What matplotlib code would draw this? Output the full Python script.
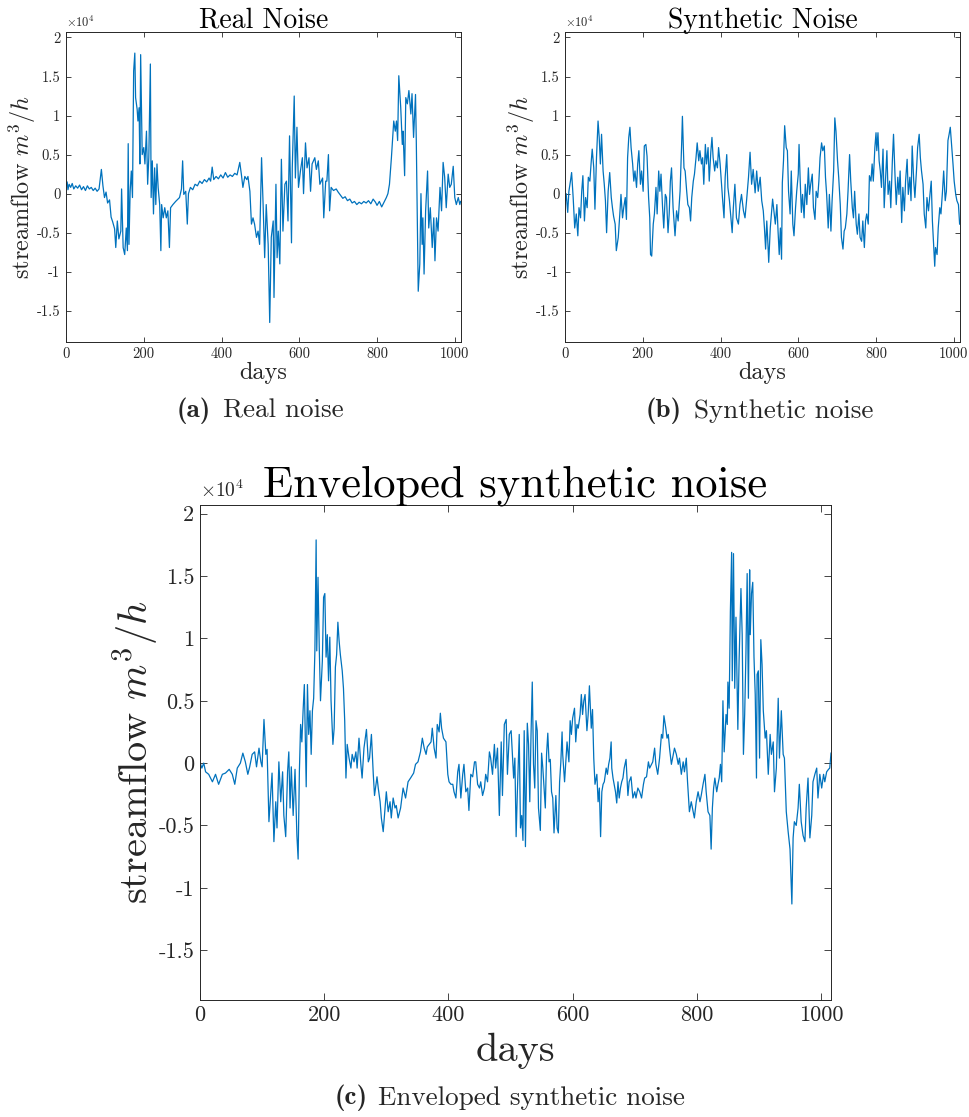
import numpy as np
import matplotlib
matplotlib.use('Agg')
import matplotlib.pyplot as plt
import matplotlib.ticker as ticker

plt.rcParams['font.family'] = 'serif'
plt.rcParams['font.serif'] = ['cmr10']
plt.rcParams['mathtext.fontset'] = 'cm'
plt.rcParams['axes.unicode_minus'] = False

# values, in units of 1e4 m^3/h
days_real = [0, 3, 5, 8, 12, 16, 20, 25, 30, 35, 40, 45, 50, 55, 60, 65, 70, 75, 80, 85,
             91, 95, 99, 103, 107, 112, 116, 120, 125, 128, 132, 136, 141, 143, 147, 151, 155, 158, 160, 162,
             165, 168, 171, 174, 177, 179, 183, 185, 188, 190, 192, 196, 200, 203, 207, 210, 213, 217, 219, 222,
             225, 228, 231, 234, 237, 241, 244, 246, 250, 254, 258, 262, 266, 269, 275, 282, 288, 292, 297, 300,
             303, 308, 312, 315, 320, 326, 332, 338, 344, 350, 356, 362, 368, 372, 376, 380, 386, 392, 398, 404,
             410, 416, 422, 428, 434, 440, 447, 451, 455, 460, 465, 468, 473, 477, 481, 485, 490, 494, 498, 503,
             507, 511, 515, 520, 524, 528, 533, 535, 540, 543, 546, 550, 554, 558, 563, 567, 571, 575, 580, 582,
             587, 590, 594, 598, 603, 608, 611, 616, 620, 625, 629, 633, 640, 644, 649, 653, 660, 663, 668, 671,
             675, 678, 682, 688, 695, 700, 706, 712, 718, 724, 730, 736, 742, 748, 754, 760, 766, 772, 778, 784,
             790, 796, 800, 806, 812, 817, 824, 828, 832, 837, 843, 847, 850, 853, 856, 861, 865, 867, 871, 874,
             878, 882, 887, 890, 894, 899, 901, 906, 910, 913, 916, 918, 921, 925, 930, 933, 937, 942, 946, 949,
             953, 957, 962, 966, 970, 974, 978, 983, 987, 991, 996, 1000, 1004, 1009, 1013, 1015]
real_noise = [0.10, 0.15, 0.05, 0.12, 0.08, 0.13, 0.06, 0.10, 0.07, 0.11, 0.05, 0.09, 0.04, 0.10, 0.06, 0.08, 0.04, 0.07, 0.03, 0.06,
              0.31, 0.10, -0.05, 0.02, -0.12, -0.08, -0.30, -0.36, -0.45, -0.69, -0.35, -0.58, -0.48, 0.06, -0.69, -0.78, -0.44, -0.73, 0.64, -0.65,
              0.03, 0.29, -0.05, 1.57, 1.80, 1.23, 1.08, 0.93, 1.10, 0.38, 1.78, 0.50, 0.59, 0.38, 0.80, 0.12, 0.46, 1.66, -0.05, 0.42,
              -0.26, 0.33, -0.14, 0.38, 0.08, -0.14, -0.73, -0.14, -0.31, -0.18, -0.31, -0.22, -0.69, -0.18, -0.14, -0.10, -0.07, -0.05, 0.06, 0.42,
              -0.01, 0.03, -0.39, 0.00, 0.08, 0.05, 0.12, 0.10, 0.16, 0.13, 0.18, 0.15, 0.20, 0.16, 0.34, 0.18, 0.22, 0.19, 0.24, 0.20,
              0.27, 0.21, 0.24, 0.22, 0.26, 0.24, 0.40, 0.25, 0.08, 0.22, 0.18, 0.22, 0.03, -0.39, -0.31, -0.39, -0.56, -0.48, -0.65, 0.46,
              -0.14, -0.82, -0.14, -0.65, -1.65, -0.56, -0.35, -1.33, 0.12, -0.82, -0.48, -0.90, 0.44, -0.48, 0.12, 0.16, -0.35, 0.74, -0.63, 0.33,
              1.25, 0.20, 0.85, 0.08, 0.29, 0.46, 0.00, 0.65, 0.33, 0.46, 0.03, 0.38, 0.46, 0.31, 0.42, 0.12, 0.20, -0.31, 0.16, 0.16,
              0.50, -0.22, 0.08, 0.04, 0.06, 0.02, -0.02, -0.06, -0.04, -0.09, -0.07, -0.12, -0.10, -0.14, -0.11, -0.13, -0.10, -0.12, -0.09, -0.13,
              -0.07, -0.11, -0.15, -0.10, -0.17, -0.12, -0.05, 0.00, 0.12, 0.46, 0.93, 0.80, 0.93, 0.68, 1.51, 1.10, 0.63, 0.80, 0.23, 1.23,
              1.15, 1.32, 1.02, 1.28, 0.72, 1.27, 0.68, -1.25, -0.90, 0.00, -0.65, -0.31, -1.03, -0.22, 0.29, -0.44, -0.18, -0.69, -0.31, -0.86,
              -0.31, -0.48, 0.08, -0.22, 0.40, 0.21, -0.18, 0.25, 0.08, 0.12, 0.35, -0.05, -0.14, -0.05, -0.14, -0.10]

days_syn = [0, 3, 7, 10, 14, 17, 21, 25, 29, 33, 36, 40, 43, 46, 50, 53, 57, 60, 64, 67,
            70, 74, 77, 81, 85, 88, 91, 94, 98, 101, 104, 107, 111, 115, 119, 122, 125, 129, 132, 137,
            141, 144, 148, 151, 155, 158, 161, 164, 167, 170, 174, 177, 180, 184, 187, 190, 194, 197, 201, 204,
            208, 211, 215, 218, 220, 223, 227, 230, 234, 237, 241, 244, 247, 251, 254, 258, 261, 265, 268, 271,
            274, 278, 283, 287, 291, 296, 300, 302, 306, 309, 313, 316, 320, 323, 326, 330, 333, 337, 340, 344,
            347, 351, 354, 357, 361, 364, 368, 371, 375, 378, 381, 385, 388, 392, 395, 399, 402, 405, 409, 412,
            416, 419, 423, 426, 430, 433, 437, 441, 446, 450, 454, 459, 463, 467, 472, 476, 480, 484, 489, 493,
            497, 502, 506, 510, 513, 516, 519, 522, 524, 528, 531, 534, 538, 541, 545, 548, 551, 554, 557, 559,
            562, 565, 569, 572, 575, 579, 582, 586, 589, 593, 596, 600, 602, 605, 608, 611, 615, 618, 622, 626,
            629, 632, 636, 639, 643, 646, 650, 653, 656, 660, 663, 667, 670, 673, 677, 680, 684, 687, 691, 694,
            697, 701, 704, 708, 711, 715, 718, 721, 725, 728, 732, 735, 739, 742, 745, 749, 752, 756, 759, 763,
            766, 770, 773, 776, 780, 783, 787, 790, 793, 797, 800, 802, 805, 808, 811, 814, 818, 821, 825, 828,
            831, 835, 838, 842, 845, 849, 852, 856, 859, 862, 866, 869, 873, 876, 880, 883, 887, 890, 893, 897,
            900, 904, 907, 911, 914, 917, 921, 924, 928, 931, 935, 938, 942, 945, 948, 951, 953, 957, 960, 964,
            967, 971, 974, 978, 981, 985, 988, 991, 995, 998, 1001, 1005, 1008, 1012, 1015]
synthetic_noise = [-0.14, 0.00, -0.24, 0.03, 0.16, 0.27, -0.05, -0.44, -0.26, -0.54, -0.18, -0.31, 0.03, 0.23, -0.35, -0.05, -0.18, 0.21, 0.16, 0.38,
                   0.57, 0.33, -0.20, 0.46, 0.93, 0.72, 0.38, 0.76, 0.29, 0.12, -0.09, -0.50, 0.03, 0.27, -0.05, -0.18, -0.29, -0.39, -0.73, -0.56,
                   -0.26, -0.01, -0.31, -0.18, -0.05, -0.33, 0.46, 0.72, 0.85, 0.59, 0.38, 0.16, 0.29, 0.08, 0.38, 0.55, 0.12, 0.29, 0.03, 0.61,
                   0.63, 0.48, -0.05, -0.31, -0.78, -0.80, -0.39, -0.26, 0.08, -0.26, 0.29, 0.03, 0.25, -0.18, -0.44, -0.01, -0.05, -0.50, -0.26, 0.16,
                   0.33, -0.18, -0.54, -0.22, -0.35, 0.03, 0.63, 0.99, 0.33, 0.29, 0.03, -0.14, -0.18, -0.35, -0.05, 0.16, 0.25, 0.46, 0.65, 0.42,
                   0.55, 0.38, 0.46, 0.12, 0.63, 0.38, 0.59, 0.16, 0.53, 0.72, 0.46, 0.29, 0.42, 0.33, 0.59, 0.38, 0.16, -0.05, -0.31, 0.21,
                   0.50, 0.08, -0.09, -0.26, -0.50, -0.18, 0.12, -0.31, -0.39, -0.14, -0.01, -0.22, -0.31, -0.09, 0.21, 0.53, 0.12, 0.31, 0.01, 0.29,
                   0.03, 0.21, -0.09, -0.22, -0.44, -0.71, -0.35, -0.65, -0.88, -0.44, -0.26, -0.07, -0.26, -0.39, -0.14, -0.48, -0.78, -0.44, -0.84, 0.14,
                   0.42, 0.87, 0.59, 0.55, 0.03, -0.26, 0.29, -0.39, -0.54, -0.18, 0.03, 0.25, 0.63, 0.16, -0.24, -0.01, -0.31, 0.12, -0.14, 0.33,
                   -0.01, 0.12, 0.25, -0.18, -0.33, 0.03, -0.05, 0.16, 0.46, 0.65, 0.55, 0.61, 0.21, -0.01, -0.44, -0.01, -0.48, -0.09, 0.29, 0.97,
                   0.80, 0.42, 0.21, -0.14, -0.56, -0.71, -0.48, -0.44, -0.26, 0.03, 0.50, 0.16, -0.18, -0.31, 0.03, -0.39, -0.52, -0.26, -0.56, -0.61,
                   -0.35, -0.69, -0.35, -0.26, -0.39, 0.23, 0.16, 0.38, 0.16, 0.59, 0.78, 0.55, 0.78, 0.42, 0.29, 0.08, 0.57, -0.18, 0.23, 0.55,
                   -0.01, 0.16, -0.18, 0.42, 0.76, 0.21, -0.14, 0.21, -0.01, 0.29, -0.37, 0.08, -0.22, 0.16, 0.44, -0.01, 0.21, -0.09, 0.61, 0.16,
                   -0.05, 0.29, 0.59, 0.76, 0.46, 0.29, 0.12, -0.26, -0.44, -0.05, -0.22, -0.05, 0.16, -0.35, -0.65, -0.93, -0.69, -0.78, -0.44, -0.18,
                   -0.26, 0.03, 0.29, -0.09, 0.03, 0.68, 0.76, 0.85, 0.59, 0.38, 0.16, -0.01, -0.09, -0.14, -0.39]

days_env = [1, 3, 6, 9, 14, 20, 25, 30, 36, 41, 47, 52, 56, 60, 65, 69, 73, 77, 80, 84,
            88, 91, 95, 98, 100, 103, 106, 108, 111, 114, 116, 119, 122, 124, 127, 130, 133, 135, 138, 141,
            143, 145, 147, 150, 153, 156, 158, 160, 162, 164, 166, 168, 171, 173, 175, 177, 179, 181, 183, 185,
            187, 188, 190, 192, 194, 197, 199, 201, 203, 205, 207, 209, 211, 214, 216, 218, 220, 222, 224, 226,
            229, 231, 233, 235, 237, 240, 243, 245, 248, 251, 253, 256, 259, 261, 264, 268, 271, 273, 276, 279,
            281, 285, 287, 290, 292, 295, 298, 300, 303, 306, 308, 311, 314, 316, 319, 323, 327, 331, 335, 339,
            344, 347, 351, 355, 358, 361, 364, 366, 369, 372, 374, 377, 380, 382, 385, 387, 389, 392, 396, 399,
            401, 404, 407, 409, 412, 415, 417, 420, 423, 425, 428, 431, 433, 436, 439, 442, 444, 447, 450, 452,
            455, 458, 460, 463, 466, 468, 471, 474, 476, 479, 482, 485, 487, 490, 493, 495, 498, 501, 503, 505,
            507, 509, 511, 514, 516, 518, 520, 522, 524, 527, 529, 531, 533, 535, 537, 539, 541, 543, 545, 548,
            550, 552, 554, 556, 558, 560, 562, 564, 566, 568, 570, 573, 575, 577, 579, 581, 583, 584, 587, 589,
            591, 594, 596, 598, 600, 603, 605, 607, 609, 612, 614, 616, 618, 620, 623, 625, 627, 630, 632, 634,
            636, 639, 641, 643, 645, 647, 649, 651, 654, 656, 658, 660, 662, 663, 665, 669, 671, 673, 675, 677,
            679, 681, 683, 686, 689, 691, 694, 697, 700, 702, 705, 708, 711, 714, 716, 719, 722, 724, 727, 729,
            732, 734, 737, 740, 743, 745, 747, 750, 752, 754, 756, 759, 762, 764, 767, 770, 772, 775, 778, 780,
            783, 785, 788, 791, 794, 796, 799, 802, 805, 807, 810, 813, 815, 818, 821, 823, 825, 827, 829, 832,
            834, 836, 838, 840, 842, 844, 847, 849, 850, 852, 854, 856, 857, 859, 861, 863, 866, 868, 871, 873,
            875, 877, 879, 881, 883, 885, 886, 888, 890, 892, 894, 896, 897, 899, 901, 903, 905, 907, 910, 912,
            915, 918, 920, 923, 925, 928, 931, 933, 936, 939, 941, 944, 947, 950, 953, 955, 957, 960, 963, 965,
            968, 971, 974, 976, 979, 982, 985, 987, 990, 993, 995, 998, 1001, 1004, 1006, 1009, 1012, 1014, 1016]
enveloped_noise = [-0.01, -0.04, 0.00, -0.07, -0.09, -0.15, -0.09, -0.17, -0.09, -0.08, -0.05, -0.09, -0.17, -0.04, 0.00, 0.08, 0.01, -0.09, -0.03, 0.07,
                   0.09, -0.03, 0.12, 0.01, -0.03, 0.35, 0.07, 0.11, -0.47, -0.23, -0.08, -0.63, -0.31, -0.52, 0.01, -0.31, -0.07, -0.42, -0.59, -0.07,
                   0.09, -0.36, -0.03, -0.42, -0.05, -0.58, -0.77, -0.07, 0.31, 0.17, 0.42, 0.63, -0.19, 0.63, 0.23, 0.42, 0.07, 0.42, 0.52, 0.90,
                   1.79, 0.90, 1.49, 0.93, 0.50, 0.82, 1.33, 1.36, 0.85, 1.03, 0.66, 1.01, 0.50, 0.15, 0.28, 0.77, 0.87, 1.13, 0.98, 0.87,
                   0.74, 0.60, 0.34, -0.12, 0.15, 0.04, -0.04, 0.07, 0.01, 0.09, -0.04, 0.20, -0.01, -0.12, 0.12, 0.27, 0.01, 0.04, 0.23, -0.09,
                   -0.26, -0.11, -0.20, -0.31, -0.44, -0.55, -0.36, -0.23, -0.39, -0.31, -0.44, -0.28, -0.36, -0.34, -0.44, -0.36, -0.20, -0.28, -0.15, -0.12,
                   -0.08, -0.01, 0.01, 0.09, 0.20, 0.12, 0.07, 0.13, 0.15, 0.17, 0.28, 0.12, 0.04, 0.31, 0.25, 0.40, 0.28, 0.20, 0.17, -0.09,
                   -0.15, -0.17, -0.17, -0.23, -0.28, -0.07, -0.01, -0.28, -0.09, -0.01, -0.23, -0.20, -0.38, -0.09, -0.11, 0.01, 0.01, -0.17, -0.20, -0.15,
                   -0.26, -0.20, -0.09, -0.15, 0.09, 0.04, -0.09, 0.15, -0.04, 0.12, -0.42, 0.17, -0.26, 0.31, 0.35, -0.09, 0.23, 0.26, 0.07, -0.12,
                   0.04, -0.59, -0.23, 0.23, -0.52, -0.42, -0.62, 0.26, -0.67, 0.32, 0.15, -0.31, 0.23, 0.65, -0.01, -0.20, 0.34, 0.26, -0.36, -0.54,
                   0.08, -0.04, -0.20, -0.36, 0.07, 0.24, 0.01, 0.03, -0.23, -0.28, -0.56, -0.26, -0.52, -0.56, -0.15, 0.01, 0.25, 0.07, -0.15, 0.01,
                   0.17, 0.01, 0.34, 0.23, 0.36, 0.44, 0.17, 0.31, 0.28, 0.39, 0.55, 0.39, 0.50, 0.55, 0.26, 0.39, 0.62, 0.28, 0.43, 0.04,
                   -0.17, -0.09, -0.31, -0.20, -0.59, -0.23, -0.17, -0.15, -0.04, -0.09, -0.01, 0.04, 0.17, -0.04, -0.12, -0.23, -0.32, -0.15, -0.28, -0.20,
                   -0.15, -0.12, -0.04, 0.03, -0.26, -0.15, -0.11, -0.28, -0.23, -0.28, -0.20, -0.23, -0.28, -0.17, -0.12, -0.11, 0.01, -0.04, -0.01, 0.01,
                   0.12, -0.01, -0.09, 0.04, 0.23, 0.20, 0.38, 0.28, 0.20, 0.23, 0.12, -0.01, 0.07, 0.12, 0.07, -0.01, 0.04, -0.09, 0.01, -0.07,
                   0.04, -0.15, -0.39, -0.31, -0.39, -0.44, -0.31, -0.23, -0.31, -0.26, -0.17, -0.09, -0.23, -0.39, -0.42, -0.69, -0.36, -0.20, -0.12, -0.23,
                   -0.17, -0.12, -0.01, -0.15, 0.50, 0.09, 0.39, 0.31, 0.65, 0.44, 1.22, 1.69, 0.66, 1.68, 0.60, 1.17, 0.27, 0.82, 1.40, 1.03,
                   0.07, 0.39, 0.87, 1.52, 0.52, 1.55, 1.03, 1.36, 1.45, 0.85, 0.55, -0.12, 0.71, 0.74, 0.04, 0.99, 0.79, 0.42, 0.20, 0.26,
                   -0.09, 0.23, 0.07, 0.17, -0.23, -0.04, 0.52, 0.04, 0.42, 0.07, 0.04, -0.39, -0.55, -0.69, -1.13, -0.60, -0.47, -0.50, -0.36, -0.17,
                   -0.47, -0.58, -0.63, -0.36, -0.12, -0.60, -0.42, -0.15, -0.09, -0.04, -0.28, -0.09, -0.20, -0.09, -0.15, -0.07, -0.05, -0.04, 0.08]

line_color = '#0072BD'
axis_color = '#262626'
W, H = 970, 1117


def yfmt(v, pos):
    return '%g' % round(v / 1e4, 2)


def setup(ax, title, title_size, label_size, tick_size, tick_len, title_pad, mult_size, ylab_x):
    ax.set_xlim(0, 1016)
    ax.set_ylim(-1.9e4, 2.07e4)
    ax.set_xticks([0, 200, 400, 600, 800, 1000])
    ax.yaxis.set_major_locator(ticker.MultipleLocator(5000))
    ax.yaxis.set_major_formatter(ticker.FuncFormatter(yfmt))
    ax.tick_params(direction='in', top=True, right=True, length=tick_len, width=0.6,
                   labelsize=tick_size, colors=axis_color, pad=4)
    for s in ax.spines.values():
        s.set_color(axis_color)
        s.set_linewidth(0.7)
    ax.set_title(title, fontsize=title_size, pad=title_pad)
    ax.set_xlabel('days', fontsize=label_size, color=axis_color)
    ax.set_ylabel(r'streamflow $m^3/h$', fontsize=label_size, color=axis_color)
    ax.xaxis.set_label_coords(0.5, -0.065)
    ax.yaxis.set_label_coords(ylab_x, 0.5)
    ax.text(0.0, 1.008, r'$\times10^{4}$', transform=ax.transAxes, fontsize=mult_size,
            color=axis_color, ha='left', va='bottom')


def caption(x_split, y, tag, text, gap=12):
    # bold tag "(a)" then the regular caption text
    fig.text(x_split / W, 1 - y / H, tag, ha='right', va='center', fontsize=19.5,
             family='cmb10', color=axis_color)
    fig.text((x_split + gap) / W, 1 - y / H, text, ha='left', va='center', fontsize=19.5,
             color=axis_color)


fig = plt.figure(figsize=(W / 100, H / 100), dpi=100)

ax_a = fig.add_axes([66 / W, 1 - 342 / H, 395 / W, 310 / H])
ax_a.plot(days_real, np.array(real_noise) * 1e4, color=line_color, lw=0.9)
setup(ax_a, 'Real Noise', 20, 17.5, 10.5, 3.5, 3, 9, -0.072)

ax_b = fig.add_axes([565 / W, 1 - 342 / H, 395 / W, 310 / H])
ax_b.plot(days_syn, np.array(synthetic_noise) * 1e4, color=line_color, lw=0.9)
setup(ax_b, 'Synthetic Noise', 20, 17.5, 10.5, 3.5, 3, 9, -0.072)

ax_c = fig.add_axes([200 / W, 1 - 1000 / H, 631 / W, 495 / H])
ax_c.plot(days_env, np.array(enveloped_noise) * 1e4, color=line_color, lw=0.9)
setup(ax_c, 'Enveloped synthetic noise', 32, 29, 16, 5, 6, 14, -0.064)

caption(211, 411, '(a)', 'Real noise')
caption(682, 411, '(b)', 'Synthetic noise')
caption(368, 1098, '(c)', 'Enveloped synthetic noise', gap=10)

fig.savefig('out.png', dpi=100)
